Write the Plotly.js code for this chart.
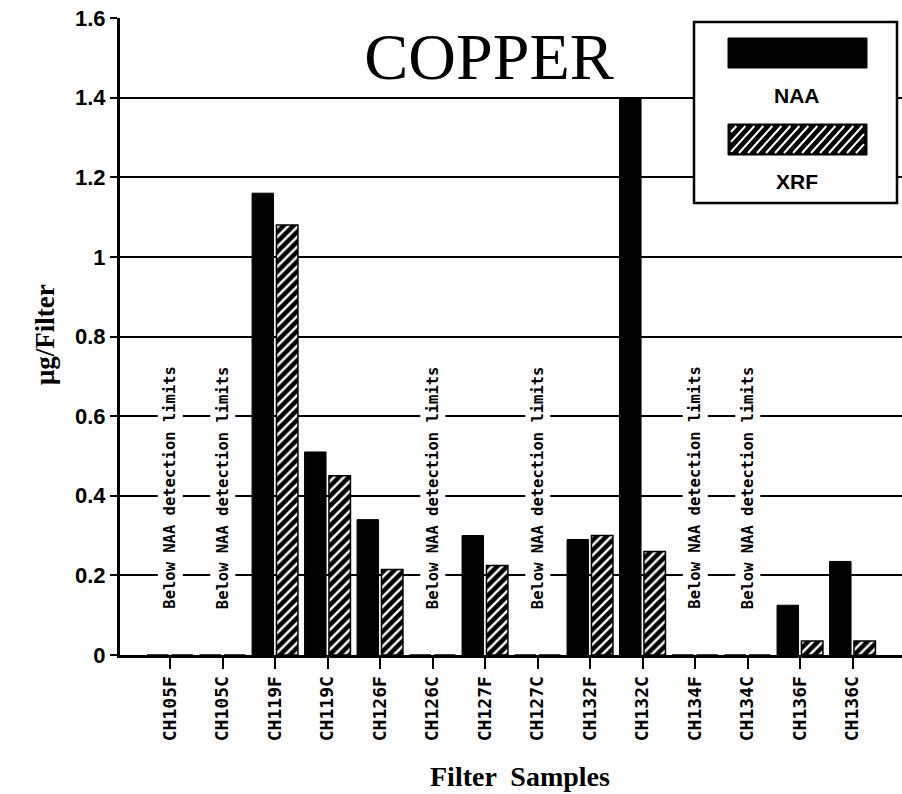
<!DOCTYPE html>
<html>
<head>
<meta charset="utf-8">
<script src="https://cdn.plot.ly/plotly-3.0.1.min.js"></script>
<style>html,body{margin:0;padding:0;background:#fff;}#chart{width:902px;height:794px;}</style>
</head>
<body>
<div id="chart"></div>
<script>
// ---- data ----
const samples = ['CH105F','CH105C','CH119F','CH119C','CH126F','CH126C','CH127F','CH127C','CH132F','CH132C','CH134F','CH134C','CH136F','CH136C'];
const naa = [0, 0, 1.16, 0.51, 0.34, 0, 0.30, 0, 0.29, 1.40, 0, 0, 0.125, 0.235];
const xrf = [0, 0, 1.08, 0.45, 0.215, 0, 0.225, 0, 0.30, 0.26, 0, 0, 0.035, 0.035];
const belowLimit = ['CH105F','CH105C','CH126C','CH127C','CH134F','CH134C'];
const belowText = 'Below NAA detection limits';
const yTicks = [0, 0.2, 0.4, 0.6, 0.8, 1, 1.2, 1.4, 1.6];
const yTickText = ['0', '0.2', '0.4', '0.6', '0.8', '1', '1.2', '1.4', '1.6'];

// ---- layout geometry ----
const W = 902, H = 794;
const mL = 120, mR = 0, mT = 18, mB = 139;
const pw = W - mL - mR, ph = H - mT - mB;
const px2x = p => (p - mL) / pw;
const px2y = p => (H - mB - p) / ph;

const traces = [
  {type: 'bar', name: 'NAA', x: samples, y: naa,
   marker: {color: '#000', line: {color: '#000', width: 1}}},
  {type: 'bar', name: 'XRF', x: samples, y: xrf,
   marker: {color: '#000', line: {color: '#000', width: 1.5},
            pattern: {shape: '/', fgcolor: '#fff', bgcolor: '#000', size: 7, solidity: 0.35}}}
];

const annotations = belowLimit.map(s => ({
  x: s, y: 0.105, xref: 'x', yref: 'y', text: belowText, showarrow: false,
  textangle: -90, xanchor: 'center', yanchor: 'bottom',
  font: {family: 'DejaVu Sans Mono', size: 15.5, color: '#000', weight: 'bold'},
  bgcolor: '#fff', borderpad: 3
}));

// legend texts
annotations.push({xref: 'paper', yref: 'paper', x: px2x(797), y: px2y(95), text: 'NAA', showarrow: false,
  xanchor: 'center', yanchor: 'middle', font: {family: 'Liberation Sans', size: 21, color: '#000', weight: 'bold'}});
annotations.push({xref: 'paper', yref: 'paper', x: px2x(797), y: px2y(181), text: 'XRF', showarrow: false,
  xanchor: 'center', yanchor: 'middle', font: {family: 'Liberation Sans', size: 21, color: '#000', weight: 'bold'}});
// axis titles
annotations.push({xref: 'paper', yref: 'paper', x: px2x(520), y: px2y(776), text: 'Filter  Samples', showarrow: false,
  xanchor: 'center', yanchor: 'middle', font: {family: 'Liberation Serif', size: 28, color: '#000', weight: 'bold'}});
annotations.push({xref: 'paper', yref: 'paper', x: px2x(45), y: px2y(335), text: 'μg/Filter', showarrow: false,
  textangle: -90, xanchor: 'center', yanchor: 'middle', font: {family: 'Liberation Serif', size: 27, color: '#000', weight: 'bold'}});

// legend shapes
const shapes = [];
shapes.push({type: 'rect', xref: 'paper', yref: 'paper', x0: px2x(694), x1: px2x(897), y0: px2y(22), y1: px2y(203),
  line: {color: '#000', width: 2.5}, fillcolor: '#fff', layer: 'above'});
shapes.push({type: 'rect', xref: 'paper', yref: 'paper', x0: px2x(728), x1: px2x(867), y0: px2y(38), y1: px2y(68),
  line: {color: '#000', width: 1}, fillcolor: '#000', layer: 'above'});
// hatched swatch
const hx0 = 728, hx1 = 867, hy0 = 124, hy1 = 155;
shapes.push({type: 'rect', xref: 'paper', yref: 'paper', x0: px2x(hx0), x1: px2x(hx1), y0: px2y(hy0), y1: px2y(hy1),
  line: {color: '#000', width: 1}, fillcolor: '#000', layer: 'above'});
(function () {
  const dx = 28, step = 9;
  const h = hy1 - hy0;
  let path = '';
  for (let s = hx0 + 3 - dx; s < hx1; s += step) {
    let xa = s, ya = hy1 - 2, xb = s + dx * (h - 4) / h, yb = hy0 + 2;
    const slope = (yb - ya) / (xb - xa);
    const lo = hx0 + 3, hi = hx1 - 3;
    if (xb < lo || xa > hi) continue;
    if (xa < lo) { ya = ya + slope * (lo - xa); xa = lo; }
    if (xb > hi) { yb = ya + slope * (hi - xa); xb = hi; }
    path += `M ${px2x(xa)} ${px2y(ya)} L ${px2x(xb)} ${px2y(yb)} `;
  }
  shapes.push({type: 'path', xref: 'paper', yref: 'paper', path: path, line: {color: '#fff', width: 2}, layer: 'above'});
})();

const catW = 52.5;
const xStart = -(170 - mL) / catW;
const layout = {
  width: W, height: H,
  margin: {l: mL, r: mR, t: mT, b: mB, pad: 0},
  paper_bgcolor: '#fff', plot_bgcolor: '#fff',
  showlegend: false,
  barmode: 'group', bargap: 0.07, bargroupgap: 0.12,
  title: {text: 'COPPER', xref: 'paper', x: px2x(489), xanchor: 'center',
          yref: 'container', y: 1 - 56 / H, yanchor: 'middle',
          font: {family: 'Liberation Serif', size: 66, color: '#000'}},
  xaxis: {
    type: 'category', range: [xStart, xStart + pw / catW],
    showline: true, linecolor: '#000', linewidth: 3,
    ticks: 'outside', ticklen: 11, tickwidth: 2, tickcolor: '#000',
    tickangle: -90, showgrid: false, zeroline: false,
    tickfont: {family: 'DejaVu Sans Mono', size: 18, color: '#000', weight: 'bold'}
  },
  yaxis: {
    range: [0, 1.6], tickvals: yTicks, ticktext: yTickText,
    showline: true, linecolor: '#000', linewidth: 3,
    ticks: 'outside', ticklen: 7, tickwidth: 2, tickcolor: '#000',
    showgrid: true, gridcolor: '#000', gridwidth: 2, zeroline: false,
    tickfont: {family: 'Liberation Sans', size: 22, color: '#000', weight: 'bold'}
  },
  annotations: annotations,
  shapes: shapes
};

Plotly.newPlot('chart', traces, layout, {displayModeBar: false, staticPlot: true});
</script>
</body>
</html>
